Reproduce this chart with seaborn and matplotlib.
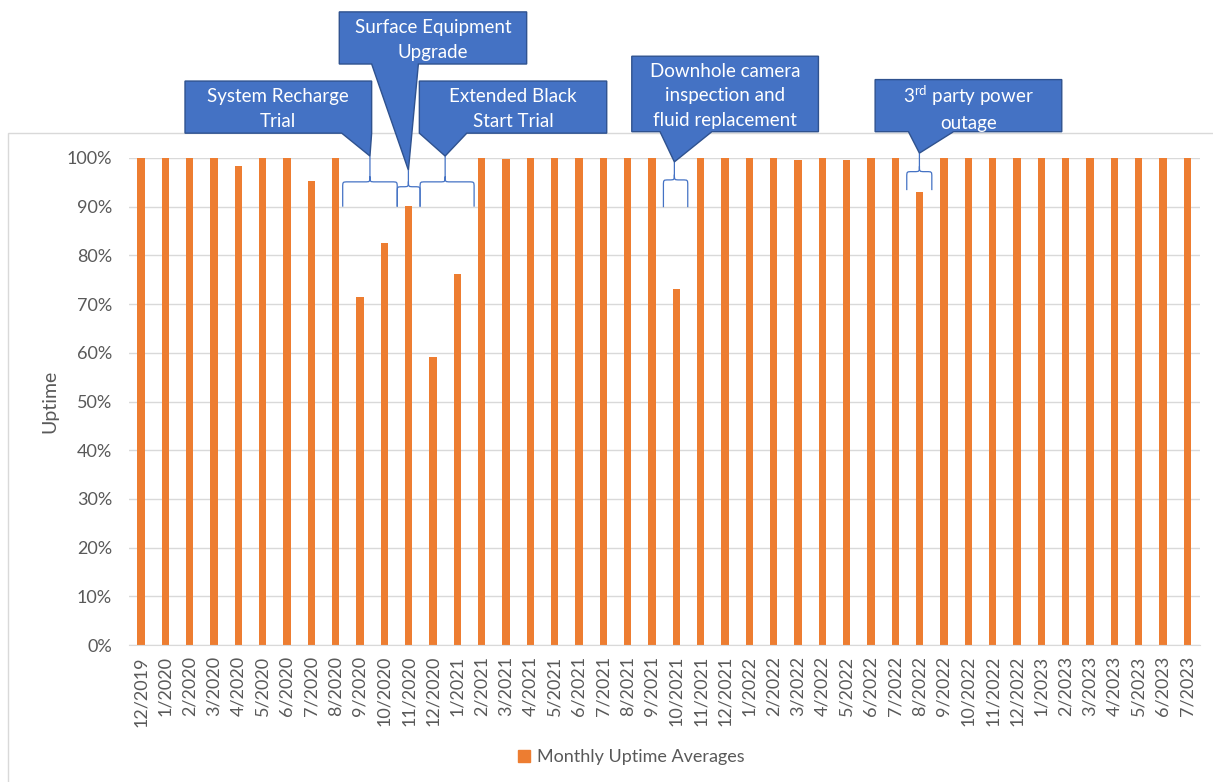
import numpy as np
import pandas as pd
import matplotlib
matplotlib.use('Agg')
import matplotlib.pyplot as plt
import seaborn as sns
from matplotlib.path import Path
from matplotlib.patches import PathPatch, Polygon, Rectangle
from matplotlib.lines import Line2D
from matplotlib.ticker import PercentFormatter

# Monthly uptime data
months = ['12/2019', '1/2020', '2/2020', '3/2020', '4/2020', '5/2020', '6/2020', '7/2020',
          '8/2020', '9/2020', '10/2020', '11/2020', '12/2020', '1/2021', '2/2021', '3/2021',
          '4/2021', '5/2021', '6/2021', '7/2021', '8/2021', '9/2021', '10/2021', '11/2021',
          '12/2021', '1/2022', '2/2022', '3/2022', '4/2022', '5/2022', '6/2022', '7/2022',
          '8/2022', '9/2022', '10/2022', '11/2022', '12/2022', '1/2023', '2/2023', '3/2023',
          '4/2023', '5/2023', '6/2023', '7/2023']
uptime = [1.00, 1.00, 1.00, 1.00, 0.983, 1.00, 1.00, 0.953,
          1.00, 0.714, 0.825, 0.902, 0.592, 0.761, 1.00, 0.997,
          1.00, 1.00, 1.00, 1.00, 1.00, 1.00, 0.730, 1.00,
          1.00, 1.00, 1.00, 0.996, 1.00, 0.996, 1.00, 1.00,
          0.930, 1.00, 1.00, 1.00, 1.00, 1.00, 1.00, 1.00,
          1.00, 1.00, 1.00, 1.00]

# Event callouts: text, box (x0, x1, ytop, ybot), pointer base (xa, xb), tip, brace (xl, xr, ybot, ymid)
event_text = ['System Recharge\nTrial', 'Surface Equipment\nUpgrade', 'Extended Black\nStart Trial',
              'Downhole camera\ninspection and\nfluid replacement', '3$^{\\mathrm{rd}}$ party power\noutage']
event_box = [(1.81, 9.48, 1.158, 1.051), (8.15, 15.85, 1.300, 1.193), (11.44, 19.14, 1.158, 1.051),
             (20.17, 27.84, 1.209, 1.054), (30.17, 37.84, 1.161, 1.054)]
event_base = [(8.25, 9.48), (9.48, 11.40), (11.44, 13.39), (21.33, 23.46), (31.54, 33.39)]
event_tip = [(9.41, 1.004), (10.99, 0.975), (12.50, 1.004), (21.92, 0.992), (31.99, 1.010)]
event_brace = [(8.29, 10.53, 0.900, 0.951), (10.53, 11.47, 0.900, 0.941), (11.47, 13.69, 0.900, 0.951),
               (21.47, 22.47, 0.899, 0.955), (31.47, 32.50, 0.934, 0.972)]

df = pd.DataFrame({'month': months, 'uptime': uptime})

plt.rcParams['font.family'] = ['Lato', 'DejaVu Sans']
plt.rcParams['mathtext.fontset'] = 'custom'
plt.rcParams['mathtext.rm'] = 'Lato'

fig = plt.figure(figsize=(12.13, 7.82), dpi=100)
ax = fig.add_axes([128.8 / 1213, (782 - 645) / 782, (1199.5 - 128.8) / 1213, (645 - 158) / 782])
ax.patch.set_alpha(0)

sns.barplot(data=df, x='month', y='uptime', color='#ED7D31', width=0.3, saturation=1, ax=ax)

ax.set_ylim(0, 1)
ax.set_xlim(-0.5, len(months) - 0.5)
ax.yaxis.set_major_formatter(PercentFormatter(1.0, decimals=0))
ax.set_yticks(np.arange(0, 1.01, 0.1))
ax.grid(axis='y', color='#D9D9D9', lw=1)
ax.set_axisbelow(True)
for s in ['top', 'right', 'left']:
    ax.spines[s].set_visible(False)
ax.spines['bottom'].set_color('#D9D9D9')
ax.tick_params(axis='x', rotation=90, length=0, pad=8, labelsize=13, labelcolor='#595959')
ax.tick_params(axis='y', length=0, pad=12, labelsize=13, labelcolor='#595959')
ax.set_xlabel('')
ax.set_ylabel('Uptime', fontsize=14, color='#595959')
ax.yaxis.set_label_coords(-0.066, 0.5)

# callouts
for text, (x0, x1, yt, yb), (xa, xb), (tx, ty) in zip(event_text, event_box, event_base, event_tip):
    verts = [(x0, yt), (x1, yt), (x1, yb), (xb, yb), (tx, ty), (xa, yb), (x0, yb)]
    ax.add_patch(Polygon(verts, closed=True, facecolor='#4472C4', edgecolor='#2F528F',
                         lw=1, clip_on=False, zorder=5))
    ax.text((x0 + x1) / 2, (yt + yb) / 2 - 0.004, text, color='white', fontsize=13.5, ha='center',
            va='center', linespacing=1.55, zorder=6, clip_on=False)

# braces
rx, ry = 0.22, 0.011
for (xl, xr, yb, ym), (tx, ty) in zip(event_brace, event_tip):
    xc = tx
    v = [(xl, yb), (xl, ym - ry), (xl, ym), (xl, ym), (xl + rx, ym), (xc - rx, ym),
         (xc, ym), (xc, ym), (xc, ym + ry), (xc, ty),
         (xc, ym + ry), (xc, ym), (xc, ym), (xc + rx, ym), (xr - rx, ym),
         (xr, ym), (xr, ym), (xr, ym - ry), (xr, yb)]
    c = [Path.MOVETO, Path.LINETO, Path.CURVE4, Path.CURVE4, Path.CURVE4, Path.LINETO,
         Path.CURVE4, Path.CURVE4, Path.CURVE4, Path.LINETO,
         Path.MOVETO, Path.CURVE4, Path.CURVE4, Path.CURVE4, Path.LINETO,
         Path.CURVE4, Path.CURVE4, Path.CURVE4, Path.LINETO]
    ax.add_patch(PathPatch(Path(v, c), facecolor='none', edgecolor='#4472C4', lw=0.9,
                           clip_on=False, zorder=4))

# chart border
fig.add_artist(Rectangle((8.3 / 1213, -0.01), 1.02, (782 - 133.3) / 782 + 0.01,
                         transform=fig.transFigure, facecolor='none', edgecolor='#D9D9D9',
                         lw=1, zorder=-1))

handle = Line2D([], [], marker='s', color='#ED7D31', lw=0, markersize=8)
fig.legend([handle], ['Monthly Uptime Averages'], loc='center', frameon=False,
           bbox_to_anchor=(630 / 1213, 1 - 757 / 782), fontsize=13, labelcolor='#595959',
           handletextpad=0.2, handlelength=1)

fig.savefig('out.png', dpi=100)
